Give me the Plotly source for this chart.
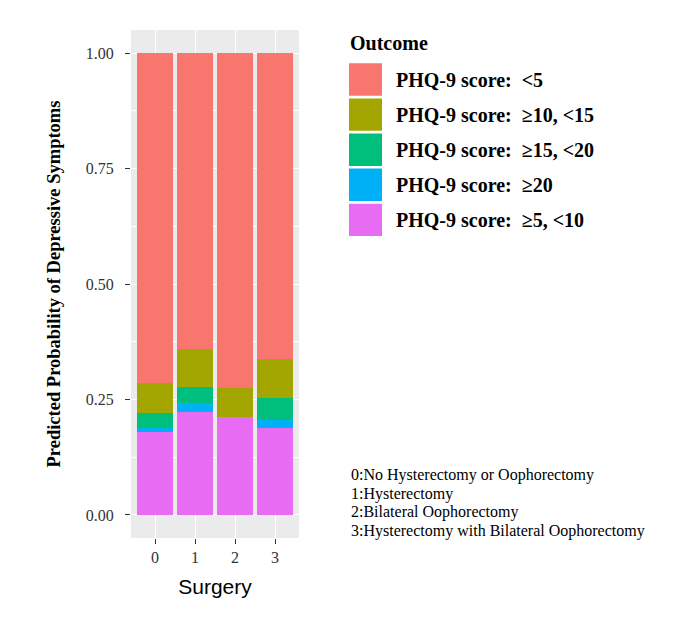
import plotly.graph_objects as go

surgery = [0, 1, 2, 3]
tick_labels = ["0", "1", "2", "3"]

# stacked from bottom to top
outcomes = ["PHQ-9 score:  \u22655, <10", "PHQ-9 score:  \u226520",
            "PHQ-9 score:  \u226515, <20", "PHQ-9 score:  \u226510, <15",
            "PHQ-9 score:  <5"]
colors = ["#E76BF3", "#00B0F6", "#00BF7D", "#A3A500", "#F8766D"]

p_5_10 = [0.179, 0.222, 0.212, 0.188]
p_ge20 = [0.010, 0.020, 0.000, 0.018]
p_15_20 = [0.031, 0.036, 0.000, 0.047]
p_10_15 = [0.065, 0.082, 0.062, 0.084]
p_lt5 = [0.715, 0.640, 0.726, 0.663]
values = [p_5_10, p_ge20, p_15_20, p_10_15, p_lt5]

legend_order = [4, 3, 2, 1, 0]
notes = ["0:No Hysterectomy or Oophorectomy", "1:Hysterectomy",
         "2:Bilateral Oophorectomy", "3:Hysterectomy with Bilateral Oophorectomy"]

OFF = 8  # page body margin
W, H = 685 - OFF, 617 - OFF
L, R, T, B = 131 - OFF, 299 - OFF, 30 - OFF, 538 - OFF


def px(x):
    return (x - OFF - L) / (R - L)


def py(y):
    return (B - (y - OFF)) / (B - T)


fig = go.Figure()
for name, col, vals in zip(outcomes, colors, values):
    fig.add_trace(go.Bar(x=surgery, y=vals, name=name, marker=dict(color=col, line=dict(width=0)),
                         width=0.9, showlegend=False))

serif = "Liberation Serif"
annotations = []
shapes = []
annotations.append(dict(text="<b>Outcome</b>", x=px(348), y=py(43.5), xref="paper", yref="paper",
                        xanchor="left", yanchor="middle", showarrow=False,
                        font=dict(family=serif, size=20, color="black")))
for i, idx in enumerate(legend_order):
    top = 63.3 + i * 35.1
    shapes.append(dict(type="rect", xref="paper", yref="paper", x0=px(349), x1=px(382),
                       y0=py(top), y1=py(top + 32.4), fillcolor=colors[idx], line=dict(width=0)))
    annotations.append(dict(text="<b>" + outcomes[idx] + "</b>", x=px(394), y=py(top + 16.5),
                            xref="paper", yref="paper", xanchor="left", yanchor="middle",
                            showarrow=False, font=dict(family=serif, size=20, color="black")))
for i, t in enumerate(notes):
    annotations.append(dict(text=t, x=px(349), y=py(475 + i * 18.7), xref="paper", yref="paper",
                            xanchor="left", yanchor="middle", showarrow=False,
                            font=dict(family=serif, size=16, color="black")))

fig.update_layout(
    barmode="stack",
    width=W, height=H,
    margin=dict(l=L, r=W - R, t=T, b=H - B, pad=0),
    paper_bgcolor="white",
    plot_bgcolor="#EBEBEB",
    shapes=shapes,
    annotations=annotations,
)
fig.update_xaxes(
    tickmode="array", tickvals=surgery, ticktext=tick_labels,
    range=[-0.6, 3.6], showgrid=True, gridcolor="white", gridwidth=1.1,
    ticks="outside", ticklen=5, tickcolor="#333333", tickwidth=1.2,
    ticklabelstandoff=0,
    tickfont=dict(family=serif, size=16, color="#333333"),
    title=dict(text="Surgery", font=dict(family="Liberation Sans", size=21, color="black"), standoff=14),
    zeroline=False, showline=False, fixedrange=True,
)
fig.update_yaxes(
    tickmode="array", tickvals=[0, 0.25, 0.5, 0.75, 1.0],
    ticktext=["0.00", "0.25", "0.50", "0.75", "1.00"],
    range=[-0.05, 1.05], showgrid=True, gridcolor="white", gridwidth=1.1,
    minor=dict(tickvals=[0.125, 0.375, 0.625, 0.875], showgrid=True, gridcolor="white", gridwidth=0.5,
               ticks=""),
    ticks="outside", ticklen=5, tickcolor="#333333", tickwidth=1.2,
    ticklabelstandoff=8,
    tickfont=dict(family=serif, size=16, color="#333333"),
    title=dict(text="<b>Predicted Probability of Depressive Symptoms</b>",
               font=dict(family=serif, size=18.5, color="black"), standoff=20),
    zeroline=False, showline=False, fixedrange=True,
)

fig.write_html("out.html")
